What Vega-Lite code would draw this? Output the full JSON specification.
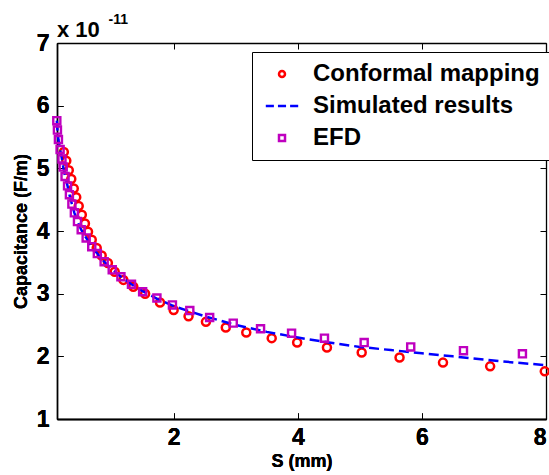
{
  "$schema": "https://vega.github.io/schema/vega-lite/v6.json",
  "width": 489,
  "height": 376,
  "autosize": "none",
  "padding": {"left": 57, "top": 43, "right": 3, "bottom": 56},
  "background": "white",
  "config": {
    "font": "Liberation Sans",
    "view": {"stroke": null},
    "axis": {"domainColor": "black", "domainWidth": 1.3, "tickColor": "black", "tickWidth": 1, "grid": false, "labelColor": "black", "titleColor": "black"}
  },
  "title": {"text": "x 10", "anchor": "start", "frame": "group", "fontSize": 22, "fontWeight": "bold", "font": "Liberation Sans", "color": "black", "offset": 6, "dy": 36},
  "datasets": {
    "d": [
      {"series": "Conformal mapping", "s": 0.23, "c": 5.26},
      {"series": "Conformal mapping", "s": 0.27, "c": 5.12},
      {"series": "Conformal mapping", "s": 0.31, "c": 4.97},
      {"series": "Conformal mapping", "s": 0.35, "c": 4.83},
      {"series": "Conformal mapping", "s": 0.39, "c": 4.68},
      {"series": "Conformal mapping", "s": 0.43, "c": 4.54},
      {"series": "Conformal mapping", "s": 0.47, "c": 4.40},
      {"series": "Conformal mapping", "s": 0.52, "c": 4.26},
      {"series": "Conformal mapping", "s": 0.57, "c": 4.12},
      {"series": "Conformal mapping", "s": 0.62, "c": 3.99},
      {"series": "Conformal mapping", "s": 0.68, "c": 3.86},
      {"series": "Conformal mapping", "s": 0.76, "c": 3.73},
      {"series": "Conformal mapping", "s": 0.84, "c": 3.61},
      {"series": "Conformal mapping", "s": 0.94, "c": 3.49},
      {"series": "Conformal mapping", "s": 1.05, "c": 3.35},
      {"series": "Conformal mapping", "s": 1.19, "c": 3.22},
      {"series": "Conformal mapping", "s": 1.35, "c": 3.11},
      {"series": "Conformal mapping", "s": 1.54, "c": 3.00},
      {"series": "Conformal mapping", "s": 1.78, "c": 2.86},
      {"series": "Conformal mapping", "s": 2.00, "c": 2.74},
      {"series": "Conformal mapping", "s": 2.24, "c": 2.64},
      {"series": "Conformal mapping", "s": 2.52, "c": 2.55},
      {"series": "Conformal mapping", "s": 2.84, "c": 2.46},
      {"series": "Conformal mapping", "s": 3.17, "c": 2.38},
      {"series": "Conformal mapping", "s": 3.58, "c": 2.29},
      {"series": "Conformal mapping", "s": 3.99, "c": 2.22},
      {"series": "Conformal mapping", "s": 4.47, "c": 2.14},
      {"series": "Conformal mapping", "s": 5.03, "c": 2.06},
      {"series": "Conformal mapping", "s": 5.64, "c": 1.98},
      {"series": "Conformal mapping", "s": 6.34, "c": 1.90},
      {"series": "Conformal mapping", "s": 7.10, "c": 1.84},
      {"series": "Conformal mapping", "s": 7.98, "c": 1.76},
      {"series": "Simulated results", "s": 0.117, "c": 5.76},
      {"series": "Simulated results", "s": 0.127, "c": 5.61},
      {"series": "Simulated results", "s": 0.143, "c": 5.46},
      {"series": "Simulated results", "s": 0.17, "c": 5.30},
      {"series": "Simulated results", "s": 0.20, "c": 5.15},
      {"series": "Simulated results", "s": 0.22, "c": 5.02},
      {"series": "Simulated results", "s": 0.25, "c": 4.87},
      {"series": "Simulated results", "s": 0.29, "c": 4.72},
      {"series": "Simulated results", "s": 0.32, "c": 4.58},
      {"series": "Simulated results", "s": 0.36, "c": 4.43},
      {"series": "Simulated results", "s": 0.40, "c": 4.29},
      {"series": "Simulated results", "s": 0.45, "c": 4.15},
      {"series": "Simulated results", "s": 0.51, "c": 4.02},
      {"series": "Simulated results", "s": 0.59, "c": 3.89},
      {"series": "Simulated results", "s": 0.68, "c": 3.75},
      {"series": "Simulated results", "s": 0.77, "c": 3.64},
      {"series": "Simulated results", "s": 0.88, "c": 3.51},
      {"series": "Simulated results", "s": 1.00, "c": 3.40},
      {"series": "Simulated results", "s": 1.15, "c": 3.27},
      {"series": "Simulated results", "s": 1.32, "c": 3.15},
      {"series": "Simulated results", "s": 1.50, "c": 3.04},
      {"series": "Simulated results", "s": 1.75, "c": 2.91},
      {"series": "Simulated results", "s": 2.00, "c": 2.80},
      {"series": "Simulated results", "s": 2.50, "c": 2.64},
      {"series": "Simulated results", "s": 3.00, "c": 2.50},
      {"series": "Simulated results", "s": 3.50, "c": 2.39},
      {"series": "Simulated results", "s": 4.00, "c": 2.30},
      {"series": "Simulated results", "s": 4.50, "c": 2.22},
      {"series": "Simulated results", "s": 5.00, "c": 2.15},
      {"series": "Simulated results", "s": 5.50, "c": 2.10},
      {"series": "Simulated results", "s": 6.00, "c": 2.05},
      {"series": "Simulated results", "s": 6.50, "c": 2.00},
      {"series": "Simulated results", "s": 7.00, "c": 1.95},
      {"series": "Simulated results", "s": 7.50, "c": 1.90},
      {"series": "Simulated results", "s": 8.00, "c": 1.86},
      {"series": "EFD", "s": 0.117, "c": 5.76},
      {"series": "EFD", "s": 0.127, "c": 5.61},
      {"series": "EFD", "s": 0.143, "c": 5.46},
      {"series": "EFD", "s": 0.17, "c": 5.30},
      {"series": "EFD", "s": 0.20, "c": 5.15},
      {"series": "EFD", "s": 0.22, "c": 5.02},
      {"series": "EFD", "s": 0.25, "c": 4.87},
      {"series": "EFD", "s": 0.29, "c": 4.72},
      {"series": "EFD", "s": 0.32, "c": 4.58},
      {"series": "EFD", "s": 0.36, "c": 4.43},
      {"series": "EFD", "s": 0.40, "c": 4.29},
      {"series": "EFD", "s": 0.45, "c": 4.15},
      {"series": "EFD", "s": 0.51, "c": 4.02},
      {"series": "EFD", "s": 0.59, "c": 3.89},
      {"series": "EFD", "s": 0.68, "c": 3.75},
      {"series": "EFD", "s": 0.77, "c": 3.64},
      {"series": "EFD", "s": 0.88, "c": 3.51},
      {"series": "EFD", "s": 1.01, "c": 3.38},
      {"series": "EFD", "s": 1.15, "c": 3.27},
      {"series": "EFD", "s": 1.32, "c": 3.15},
      {"series": "EFD", "s": 1.50, "c": 3.03},
      {"series": "EFD", "s": 1.73, "c": 2.93},
      {"series": "EFD", "s": 1.98, "c": 2.82},
      {"series": "EFD", "s": 2.26, "c": 2.73},
      {"series": "EFD", "s": 2.58, "c": 2.62},
      {"series": "EFD", "s": 2.96, "c": 2.53},
      {"series": "EFD", "s": 3.40, "c": 2.44},
      {"series": "EFD", "s": 3.90, "c": 2.37},
      {"series": "EFD", "s": 4.43, "c": 2.29},
      {"series": "EFD", "s": 5.07, "c": 2.22},
      {"series": "EFD", "s": 5.82, "c": 2.15},
      {"series": "EFD", "s": 6.67, "c": 2.09},
      {"series": "EFD", "s": 7.62, "c": 2.04}
    ]
  },
  "data": {"name": "d"},
  "encoding": {
    "x": {"field": "s", "type": "quantitative", "scale": {"domain": [0.12, 8], "nice": false, "zero": false},
      "axis": {"orient": "bottom", "values": [2, 4, 6, 8], "tickSize": -6, "labelPadding": 13, "labelFontSize": 23, "labelFontWeight": "bold", "title": "S (mm)", "titleFontSize": 18, "titleFontWeight": "bold", "titlePadding": 3}},
    "y": {"field": "c", "type": "quantitative", "scale": {"domain": [1, 7], "nice": false, "zero": false},
      "axis": {"orient": "left", "values": [1, 2, 3, 4, 5, 6, 7], "tickSize": -6, "labelPadding": 14, "labelFontSize": 23, "labelFontWeight": "bold", "title": "Capacitance (F/m)", "titleFontSize": 18, "titleFontWeight": "bold", "titlePadding": 6}}
  },
  "layer": [
    {
      "transform": [{"filter": "datum.series === 'Conformal mapping'"}],
      "mark": {"type": "point", "filled": false, "strokeWidth": 2.5, "size": 64, "opacity": 1, "clip": false},
      "encoding": {
        "color": {"field": "series", "type": "nominal",
          "scale": {"domain": ["Conformal mapping", "Simulated results", "EFD"], "range": ["#ff0000", "#0000ff", "#bf00bf"]},
          "legend": {"orient": "none", "legendX": 195, "legendY": 9, "title": null, "padding": 10, "strokeColor": "black", "fillColor": "white", "labelFontSize": 24, "labelFont": "Liberation Sans", "labelFontWeight": "bold", "labelColor": "black", "labelLimit": 400, "symbolSize": 36, "symbolStrokeWidth": 2.5, "symbolOpacity": 1, "symbolOffset": 8, "labelOffset": 19, "rowPadding": 8}},
        "shape": {"field": "series", "type": "nominal",
          "scale": {"domain": ["Conformal mapping", "Simulated results", "EFD"], "range": ["circle", "M-5.4,0H-2.7M-1.35,0H1.35M2.7,0H5.4", "square"]}}
      }
    },
    {
      "transform": [{"filter": "datum.series === 'Simulated results'"}],
      "mark": {"type": "line", "color": "#0000ff", "strokeWidth": 2.5, "strokeDash": [10, 5]},
      "encoding": {}
    },
    {
      "transform": [{"filter": "datum.series === 'EFD'"}],
      "mark": {"type": "point", "filled": false, "strokeWidth": 2.4, "size": 50, "opacity": 1, "clip": false},
      "encoding": {
        "color": {"field": "series", "type": "nominal"},
        "shape": {"field": "series", "type": "nominal"}
      }
    },
    {
      "transform": [{"filter": "datum.series === 'EFD'"}],
      "mark": {"type": "point", "opacity": 0},
      "encoding": {
        "x": {"field": "s", "type": "quantitative", "axis": {"orient": "top", "values": [2, 4, 6, 8], "tickSize": -6, "labels": false, "title": "-11", "titleX": 51, "titleY": -20, "titleAlign": "left", "titleBaseline": "alphabetic", "titleFontSize": 14, "titleFontWeight": "bold"}},
        "y": {"field": "c", "type": "quantitative", "axis": {"orient": "right", "values": [1, 2, 3, 4, 5, 6, 7], "tickSize": -6, "labels": false, "title": null}}
      }
    }
  ]
}
